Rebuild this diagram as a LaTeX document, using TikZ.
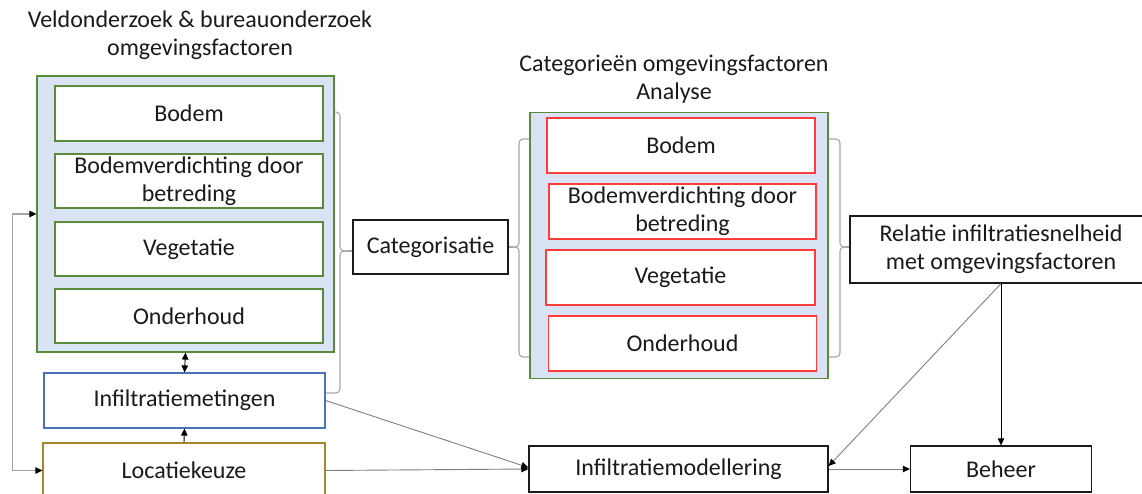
\documentclass[tikz,border=0pt]{standalone}
\usepackage{fontspec}
\setmainfont{Carlito}
\usetikzlibrary{arrows.meta,calc}
\definecolor{panelfill}{HTML}{DAE3F3}
\definecolor{panelline}{HTML}{5A8A3C}
\definecolor{measureline}{HTML}{4A72B8}
\definecolor{siteline}{HTML}{A8872C}
\definecolor{catline}{HTML}{FF3B3B}
\definecolor{bracegray}{HTML}{A6A6A6}
\definecolor{linkgray}{HTML}{7F7F7F}
\definecolor{ink}{HTML}{1A1A1A}
\begin{document}
\begin{tikzpicture}[x=1pt,y=-1pt,
  lbl/.style={font=\fontsize{24}{28}\selectfont, text=ink, align=center},
  panel/.style={draw=panelline, fill=panelfill, line width=1.2pt, inner sep=0pt},
  factor/.style={draw=panelline, fill=white, line width=1.3pt, inner sep=0pt, lbl},
  catbox/.style={draw=catline, fill=white, line width=1.3pt, inner sep=0pt, lbl},
  plain/.style={draw=ink, fill=white, line width=1.3pt, inner sep=0pt, lbl},
  brace/.style={draw=bracegray, line width=1.1pt, rounded corners=4pt},
  tip/.style={-{Triangle[length=7pt,width=6.5pt,color=black]}},
  link/.style={draw=linkgray, line width=0.9pt, tip},
  blink/.style={draw=black, line width=0.9pt, tip}
]
\useasboundingbox (0,0) rectangle (1142,494);

% titles
\node[lbl] (t1) at (200,35) {Veldonderzoek \& bureauonderzoek\\omgevingsfactoren};
\node[lbl] (t2) at (674,79) {Categorieën omgevingsfactoren\\Analyse};

% field and desk research group
\node[panel, minimum width=297pt, minimum height=276pt] (veld) at (185.5,214) {};
\node[factor, minimum width=268pt, minimum height=55pt] (f1) at (189,113.5) {Bodem};
\node[factor, minimum width=268pt, minimum height=54pt] (f2) at (189,181) {Bodemverdichting door\\betreding};
\node[factor, minimum width=268pt, minimum height=54pt] (f3) at (189,249) {Vegetatie};
\node[factor, minimum width=268pt, minimum height=54pt] (f4) at (189,316) {Onderhoud};

\node[draw=measureline, fill=white, line width=1.2pt, inner sep=0pt, lbl,
      minimum width=281pt, minimum height=55pt] (meet) at (184.5,400.5) {Infiltratiemetingen};
\node[draw=siteline, fill=white, line width=1.2pt, inner sep=0pt, lbl,
      minimum width=282pt, minimum height=55pt] (loc) at (184,470.5) {Locatiekeuze};

% categorisation
\node[plain, minimum width=155pt, minimum height=54pt] (cat) at (430.5,247) {Categorisatie};

% analysis group
\node[panel, minimum width=298pt, minimum height=266pt] (ana) at (679,245.5) {};
\node[catbox, minimum width=268pt, minimum height=55pt] (c1) at (681,145.5) {Bodem};
\node[catbox, minimum width=267pt, minimum height=55pt] (c2) at (682.5,211.5) {Bodemverdichting door\\betreding};
\node[catbox, minimum width=269pt, minimum height=55pt] (c3) at (680.5,277.5) {Vegetatie};
\node[catbox, minimum width=268pt, minimum height=55pt] (c4) at (682.5,343.5) {Onderhoud};

% relation, modelling, management
\node[plain, minimum width=302pt, minimum height=67pt] (rel) at (1001,249.5) {Relatie infiltratiesnelheid\\met omgevingsfactoren};
\node[plain, minimum width=299pt, minimum height=46pt] (mod) at (678.5,469) {Infiltratiemodellering};
\node[plain, minimum width=181pt, minimum height=46pt] (beh) at (1001,469) {Beheer};

% braces
\coordinate (b1) at (347,251);
\draw[brace] (veld.east |- 0,112) -| (340,251) -- (b1);
\draw[brace] (meet.east |- 0,393) -| (340,251) -- (b1);
\draw[bracegray, line width=1.1pt] (b1) -- (b1 -| cat.west);

\coordinate (b2) at (512,247);
\draw[brace] (ana.west |- 0,139) -| (519,247) -- (b2);
\draw[brace] (ana.west |- 0,357) -| (519,247) -- (b2);
\draw[bracegray, line width=1.1pt] (b2) -- (b2 -| cat.east);

\coordinate (b3) at (846,247);
\draw[brace] (ana.east |- 0,139) -| (840,247) -- (b3);
\draw[brace] (ana.east |- 0,357) -| (840,247) -- (b3);
\draw[bracegray, line width=1.1pt] (b3) -- (b3 -| rel.west);

% connectors
\draw[blink, {Triangle[length=7pt,width=6.5pt]}-{Triangle[length=7pt,width=6.5pt]}] (veld.south) -- (meet.north);
\draw[blink] (loc.north) -- (meet.north |- meet.south);
\draw[draw=bracegray, line width=1.1pt,
      {Triangle[length=7pt,width=6.5pt,color=black]}-{Triangle[length=7pt,width=6.5pt,color=black]}]
  (veld.west) -- ++(-24,0) |- (loc.west);
\draw[link] (meet.east) -- ([yshift=1.5pt]mod.west);
\draw[link] (loc.east) -- (mod.west);
\draw[link] (rel.south) -- ([yshift=3pt]mod.east);
\draw[blink] (rel.south) -- (beh.north);
\draw[link] (mod.east) -- (beh.west);
\end{tikzpicture}
\end{document}
